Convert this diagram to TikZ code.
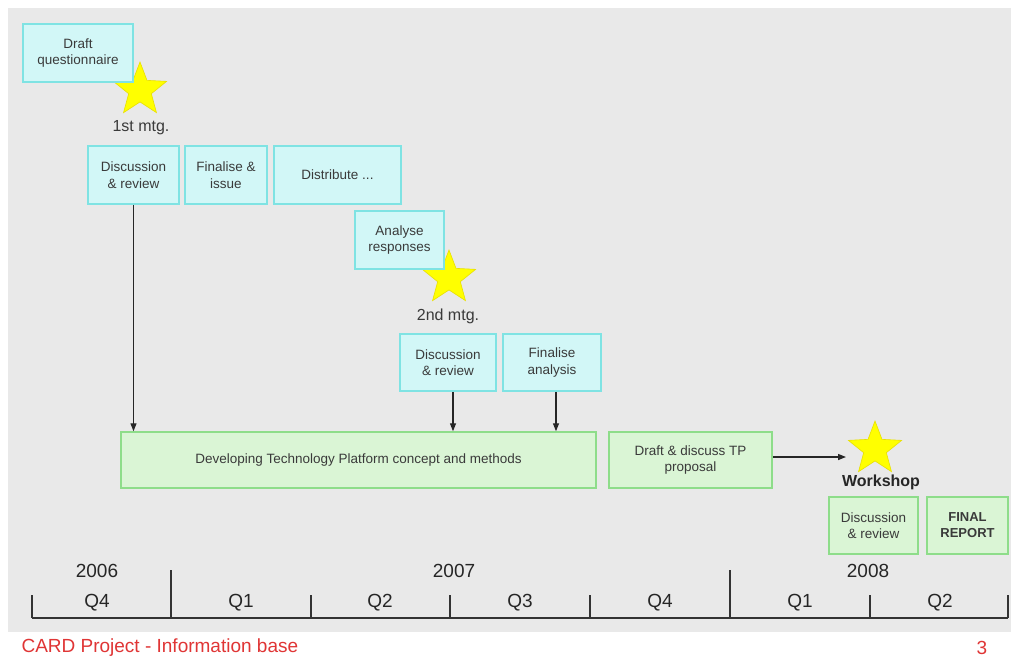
\documentclass[tikz,border=0pt]{standalone}
\usepackage{fontspec}
\setmainfont{Liberation Sans}
\usetikzlibrary{shapes.geometric,arrows.meta}
\definecolor{bg}{HTML}{E9E9E9}
\definecolor{cfill}{HTML}{D2F7F7}
\definecolor{cdraw}{HTML}{7FE3E3}
\definecolor{gfill}{HTML}{DAF5D5}
\definecolor{gdraw}{HTML}{8EDD8A}
\definecolor{txt}{HTML}{3A3A3A}
\definecolor{starY}{HTML}{FFFF00}
\definecolor{starE}{HTML}{E8E000}
\definecolor{foot}{HTML}{E03535}
\tikzset{
  box/.style={rectangle, line width=1.5pt, text=txt, align=center, inner sep=2pt,
    font=\fontsize{13.5}{16.5}\selectfont},
  cbox/.style={box, fill=cfill, draw=cdraw},
  gbox/.style={box, fill=gfill, draw=gdraw},
  mstar/.style={star, star points=5, star point ratio=2.35, fill=starY, draw=starE, line width=0.6pt, minimum size=56pt, inner sep=0pt},
  mlabel/.style={text=txt, font=\fontsize{16}{19}\selectfont},
  arr/.style={line width=1.3pt, draw=black!85, -{Triangle[length=8pt,width=6pt]}},
  tl/.style={line width=2pt, draw=black!80},
  ql/.style={text=black!85, font=\fontsize{19}{22}\selectfont},
}
\begin{document}
\begin{tikzpicture}[x=1pt,y=-1pt]
\useasboundingbox (0,0) rectangle (1011,657);
\fill[white] (0,0) rectangle (1011,657);
\fill[bg] (8,8) rectangle (1011,632);

% stars (behind boxes)
\node[mstar] (s1) at (140,90) {};
\node[mstar] (s2) at (449,278) {};
\node[mstar] (s3) at (875,449) {};

\node[cbox, minimum width=110pt, minimum height=58pt] (dq) at (78,53) {Draft\\questionnaire};
\node[mlabel] (m1) at (141,128) {1st mtg.};
\node[cbox, minimum width=91pt, minimum height=58pt] (d1) at (133.5,175) {Discussion\\\& review};
\node[cbox, minimum width=82pt, minimum height=58pt] (fi) at (226,175) {Finalise \&\\issue};
\node[cbox, minimum width=127pt, minimum height=58pt] (di) at (337.5,175) {Distribute ...};
\node[cbox, minimum width=89pt, minimum height=58pt] (an) at (399.5,240) {Analyse\\responses};
\node[mlabel] (m2) at (448,316) {2nd mtg.};
\node[cbox, minimum width=96pt, minimum height=57pt] (d2) at (448,362.5) {Discussion\\\& review};
\node[cbox, minimum width=98pt, minimum height=57pt] (fa) at (552,362.5) {Finalise\\analysis};
\node[gbox, minimum width=475pt, minimum height=56pt] (dev) at (358.5,460) {Developing Technology Platform concept and methods};
\node[gbox, minimum width=163pt, minimum height=56pt] (tp) at (690.5,460) {Draft \& discuss TP\\proposal};
\node[text=black!85, font=\bfseries\fontsize{16}{19}\selectfont] (ws) at (881,482) {Workshop};
\node[gbox, minimum width=89pt, minimum height=57pt] (d3) at (873.5,525.5) {Discussion\\\& review};
\node[gbox, minimum width=81pt, minimum height=57pt, font=\bfseries\fontsize{13}{16}\selectfont] (fr) at (967.5,525.5) {FINAL\\REPORT};

\coordinate (wsin) at (846,457);
\draw[arr] (d1.south) -- (d1.south |- dev.north);
\draw[arr] ([xshift=5pt]d2.south) -- ([xshift=5pt]d2.south |- dev.north);
\draw[arr] ([xshift=4pt]fa.south) -- ([xshift=4pt]fa.south |- dev.north);
\draw[arr] (tp.east |- wsin) -- (wsin);

% timeline
\draw[tl] (32,618) -- (1008,618);
\draw[tl] (32,595) -- (32,618);
\draw[tl] (171,570) -- (171,618);
\draw[tl] (311,595) -- (311,618);
\draw[tl] (450,595) -- (450,618);
\draw[tl] (590,595) -- (590,618);
\draw[tl] (730,570) -- (730,618);
\draw[tl] (870,595) -- (870,618);
\draw[tl] (1008,595) -- (1008,618);
\node[ql] (y6) at (97,571) {2006};
\node[ql] (y7) at (454,571) {2007};
\node[ql] (y8) at (868,571) {2008};
\node[ql] (q1) at (97,603) {Q4};
\node[ql] (q2) at (241,603) {Q1};
\node[ql] (q3) at (380,603) {Q2};
\node[ql] (q4) at (520,603) {Q3};
\node[ql] (q5) at (660,603) {Q4};
\node[ql] (q6) at (800,603) {Q1};
\node[ql] (q7) at (940,603) {Q2};

\node[anchor=west, text=foot, font=\fontsize{19}{22}\selectfont] (ft) at (18,648) {CARD Project - Information base};
\node[text=foot, font=\fontsize{19}{22}\selectfont] (pg) at (982,648) {3};
\end{tikzpicture}
\end{document}
